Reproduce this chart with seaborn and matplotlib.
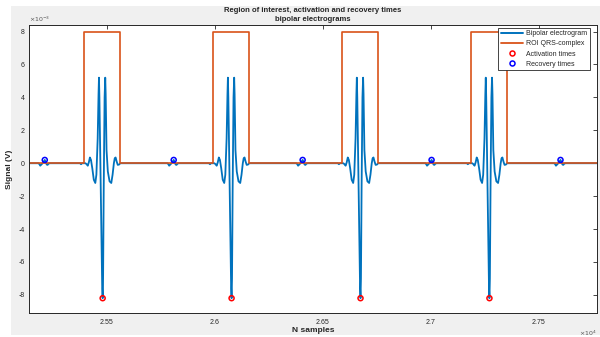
import numpy as np
import pandas as pd
import matplotlib
matplotlib.use("Agg")
import matplotlib.pyplot as plt
from matplotlib.patches import Rectangle
from matplotlib.lines import Line2D
import seaborn as sns

# ---- data (samples, signal in units of 1e-3 V) ----
activation_times = [25481, 26078, 26675, 27272]
activation_values = [-8.2, -8.2, -8.2, -8.2]
recovery_times = [25213, 25810, 26407, 27004, 27601]
recovery_values = [0.2, 0.2, 0.2, 0.2, 0.2]
roi_start = [25394, 25992, 26589, 27187]
roi_end = [25560, 26158, 26755, 27352]
roi_level = 8.0

# QRS complex shape around each activation time (offset in samples, value)
qrs_offsets = [-105, -100, -95, -80, -74, -69, -64, -59, -54, -48, -41, -34,
               -29, -23, -19, -17, -15, -11, -6, -2, 0, 2, 5, 9, 12, 14,
               18, 24, 32, 40, 46, 52, 56, 60, 65, 70, 76, 82, 88]
qrs_values = [0.0, -0.06, 0.0, 0.0, -0.06, -0.15, 0.05, 0.35, 0.2, -0.3, -1.0, -1.2,
              -0.7, 1.5, 4.2, 5.2, 4.0, 0.5, -4.0, -7.6, -8.2, -7.0, -1.5, 4.0, 5.2, 4.2,
              0.8, -0.5, -1.1, -1.2, -0.7, 0.0, 0.3, 0.35, 0.1, -0.1, -0.08, 0.0, 0.0]

# repolarisation wave around each recovery time
rec_offsets = [-30, -25, -21, -16, -10, -4, 0, 4, 9, 13, 18, 24]
rec_values = [0.0, -0.05, -0.15, -0.08, 0.0, 0.12, 0.2, 0.1, -0.08, -0.1, -0.02, 0.0]

x_start, x_end = 25000, 28000

# ---- build traces ----
t_sig, v_sig = [x_start], [0.0]
events = sorted([(a, qrs_offsets, qrs_values) for a in activation_times] +
                [(r, rec_offsets, rec_values) for r in recovery_times])
for t0, offs, vals in events:
    t_sig += [t0 + o for o in offs]
    v_sig += vals
t_sig.append(x_end)
v_sig.append(0.0)
signal = pd.DataFrame({"t": t_sig, "v": np.array(v_sig) * 1e-3})

t_roi, v_roi = [x_start], [0.0]
for s, e in zip(roi_start, roi_end):
    t_roi += [s, s, e, e]
    v_roi += [0.0, roi_level, roi_level, 0.0]
t_roi.append(x_end)
v_roi.append(0.0)
roi = pd.DataFrame({"t": t_roi, "v": np.array(v_roi) * 1e-3})

act = pd.DataFrame({"t": activation_times, "v": np.array(activation_values) * 1e-3})
rec = pd.DataFrame({"t": recovery_times, "v": np.array(recovery_values) * 1e-3})

# ---- figure ----
sns.set_theme(style="white")
plt.rcParams["font.family"] = ["Liberation Sans", "DejaVu Sans"]
dark = "#262626"

fig = plt.figure(figsize=(6.0, 3.37), dpi=100)
fig.patch.set_facecolor("white")
fig.patches.append(Rectangle((11 / 600, 2 / 337), 589 / 600, 329 / 337,
                             transform=fig.transFigure, facecolor="#F0F0F0",
                             edgecolor="none", zorder=-10))
ax = fig.add_axes([29 / 600, 24 / 337, 568 / 600, 288 / 337])
ax.set_facecolor("white")

blue = "#0072BD"
orange = "#D95319"
sns.lineplot(data=signal, x="t", y="v", estimator=None, sort=False, ax=ax,
             color=blue, linewidth=1.3, label="Bipolar electrogram")
sns.lineplot(data=roi, x="t", y="v", estimator=None, sort=False, ax=ax,
             color=orange, linewidth=1.2, label="ROI QRS-complex")
sns.scatterplot(data=act, x="t", y="v", ax=ax, marker="o", s=13,
                facecolor="none", edgecolor="red", linewidth=1.1, zorder=5,
                label="Activation times")
sns.scatterplot(data=rec, x="t", y="v", ax=ax, marker="o", s=13,
                facecolor="none", edgecolor="blue", linewidth=1.1, zorder=5,
                label="Recovery times")

ax.set_xlim(25140, 27770)
ax.set_ylim(-9.1e-3, 8.4e-3)

xticks = [25500, 26000, 26500, 27000, 27500]
xtick_labels = ["2.55", "2.6", "2.65", "2.7", "2.75"]
yticks = [-8, -6, -4, -2, 0, 2, 4, 6, 8]
ax.set_xticks(xticks)
ax.set_xticklabels(xtick_labels)
ax.set_yticks([y * 1e-3 for y in yticks])
ax.set_yticklabels([str(y) for y in yticks])
ax.tick_params(direction="in", length=3, width=0.6, colors=dark, labelsize=5,
               top=True, right=True, pad=3)
ax.tick_params(axis="x", pad=4)
for sp in ax.spines.values():
    sp.set_visible(True)
    sp.set_color(dark)
    sp.set_linewidth(0.7)

ax.set_xlabel("N samples", fontsize=6, fontweight="bold", color=dark, labelpad=1)
ax.set_ylabel("Signal (V)", fontsize=6, fontweight="bold", color=dark, labelpad=4)
ax.set_title("Region of interest, activation and recovery times\nbipolar electrograms",
             fontsize=5.5, fontweight="bold", color=dark, pad=3, linespacing=1.4)

ax.text(0.0, 1.005, r"$\times10^{-3}$", transform=ax.transAxes, fontsize=4.5,
        color="#555555", ha="left", va="bottom")
ax.text(1.0, -0.055, r"$\times10^{4}$", transform=ax.transAxes, fontsize=4.5,
        color="#555555", ha="right", va="top")

handles = [
    Line2D([], [], color=blue, linewidth=1.4),
    Line2D([], [], color=orange, linewidth=1.3),
    Line2D([], [], color="red", marker="o", markerfacecolor="none",
           markeredgewidth=1.1, markersize=3.6, linestyle="none"),
    Line2D([], [], color="blue", marker="o", markerfacecolor="none",
           markeredgewidth=1.1, markersize=3.6, linestyle="none"),
]
leg = ax.legend(handles, ["Bipolar electrogram", "ROI QRS-complex",
                          "Activation times", "Recovery times"],
                loc="upper right", bbox_to_anchor=(0.99, 0.995), fontsize=5,
                frameon=True, fancybox=False, framealpha=1, edgecolor=dark,
                handlelength=3.2, handletextpad=0.5, borderpad=0.35,
                labelspacing=0.45, borderaxespad=0.2)
leg.get_frame().set_linewidth(0.6)
for txt in leg.get_texts():
    txt.set_color(dark)

fig.savefig("out.png", dpi=100)
